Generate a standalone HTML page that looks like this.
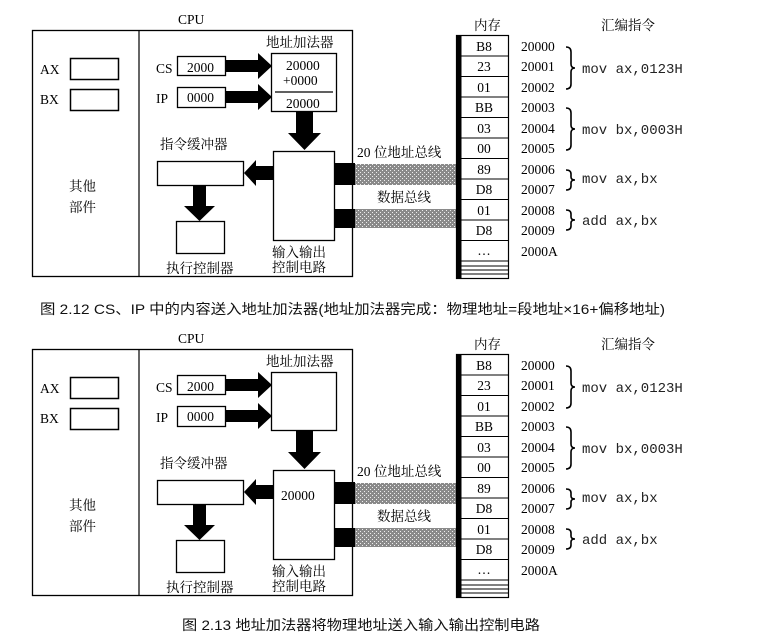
<!DOCTYPE html>
<html><head><meta charset="utf-8"><style>
html,body{margin:0;padding:0;background:#fff;width:761px;height:639px;overflow:hidden}
svg{display:block}
.s{font-family:"Liberation Serif","Noto Serif CJK SC",serif;font-size:13.5px;fill:#000}
.m{font-family:"Liberation Mono",monospace;font-size:14px;fill:#222}
.c{font-family:"Liberation Sans","Noto Sans CJK SC",sans-serif;font-size:14px;fill:#111}
</style></head><body>
<svg width="761" height="639" viewBox="0 0 761 639" xmlns="http://www.w3.org/2000/svg">
<defs>
<pattern id="h" width="4" height="4" patternUnits="userSpaceOnUse">
<rect width="4" height="4" fill="#8a8a8a"/><rect x="0" y="0" width="1" height="1" fill="#eee"/><rect x="2" y="2" width="1" height="1" fill="#eee"/>
</pattern>
<g id="base">
<text class="s" x="178" y="24">CPU</text>
<rect x="32.5" y="30.5" width="320" height="246" fill="none" stroke="#000" stroke-width="1.3"/>
<line x1="139" y1="30" x2="139" y2="277" stroke="#000" stroke-width="1.2"/>
<text class="s" x="40" y="74">AX</text>
<rect x="70.5" y="58.5" width="48" height="21" fill="#fff" stroke="#000" stroke-width="1.5"/>
<text class="s" x="40" y="104">BX</text>
<rect x="70.5" y="89.5" width="48" height="21" fill="#fff" stroke="#000" stroke-width="1.5"/>
<text class="s" x="69" y="191">其他</text>
<text class="s" x="69" y="212">部件</text>
<text class="s" x="156" y="73">CS</text>
<rect x="177.5" y="56.5" width="48" height="19" fill="#fff" stroke="#000" stroke-width="1.3"/>
<text class="s" x="187" y="72">2000</text>
<text class="s" x="156" y="103">IP</text>
<rect x="177.5" y="87.5" width="48" height="20" fill="#fff" stroke="#000" stroke-width="1.3"/>
<text class="s" x="187" y="102">0000</text>
<polygon points="226,60 258,60 258,53 272,66 258,79 258,72 226,72" fill="#000"/>
<polygon points="226,91 258,91 258,84 272,97 258,110 258,103 226,103" fill="#000"/>
<text class="s" x="266" y="47">地址加法器</text>
<rect x="271.5" y="53.5" width="65" height="58" fill="#fff" stroke="#000" stroke-width="1.3"/>
<polygon points="296,111 313,111 313,133 321,133 304.5,150 288,133 296,133" fill="#000"/>
<rect x="273.5" y="151.5" width="61" height="89" fill="#fff" stroke="#000" stroke-width="1.3"/>
<text class="s" x="272" y="257">输入输出</text>
<text class="s" x="272" y="272">控制电路</text>
<text class="s" x="160" y="149">指令缓冲器</text>
<rect x="157.5" y="161.5" width="86" height="24" fill="#fff" stroke="#000" stroke-width="1.3"/>
<polygon points="273,166 256,166 256,160 244,173 256,186 256,180 273,180" fill="#000"/>
<polygon points="193,186 206,186 206,206 215,206 199.5,221 184,206 193,206" fill="#000"/>
<rect x="176.5" y="221.5" width="48" height="32" fill="#fff" stroke="#000" stroke-width="1.3"/>
<text class="s" x="166" y="273">执行控制器</text>
<rect x="334" y="163" width="21" height="22" fill="#000"/>
<rect x="334" y="209" width="21" height="19" fill="#000"/>
<rect x="355" y="164" width="101" height="21" fill="url(#h)"/>
<rect x="355" y="209" width="101" height="19" fill="url(#h)"/>
<text class="s" x="357" y="157">20 位地址总线</text>
<text class="s" x="377" y="202">数据总线</text>
<text class="s" x="474" y="30">内存</text>
<text class="s" x="601" y="30">汇编指令</text>
<rect x="456.5" y="35.5" width="52" height="243" fill="#fff" stroke="#000" stroke-width="1.2"/>
<rect x="457" y="35" width="4.5" height="243" fill="#000"/>
<g stroke="#000" stroke-width="1">
<line x1="461" y1="56" x2="508" y2="56"/><line x1="461" y1="76.5" x2="508" y2="76.5"/><line x1="461" y1="97" x2="508" y2="97"/>
<line x1="461" y1="117.5" x2="508" y2="117.5"/><line x1="461" y1="138" x2="508" y2="138"/><line x1="461" y1="158.5" x2="508" y2="158.5"/>
<line x1="461" y1="179" x2="508" y2="179"/><line x1="461" y1="199.5" x2="508" y2="199.5"/><line x1="461" y1="220" x2="508" y2="220"/>
<line x1="461" y1="240.5" x2="508" y2="240.5"/><line x1="461" y1="261" x2="508" y2="261"/><line x1="461" y1="266" x2="508" y2="266"/>
<line x1="461" y1="270" x2="508" y2="270"/><line x1="461" y1="274" x2="508" y2="274"/>
</g>
<g class="s" text-anchor="middle">
<text x="484" y="51">B8</text><text x="484" y="71">23</text><text x="484" y="92">01</text><text x="484" y="112">BB</text>
<text x="484" y="133">03</text><text x="484" y="153">00</text><text x="484" y="174">89</text><text x="484" y="194">D8</text>
<text x="484" y="215">01</text><text x="484" y="235">D8</text><text x="484" y="255">…</text>
</g>
<g class="s">
<text x="521" y="51">20000</text><text x="521" y="71">20001</text><text x="521" y="92">20002</text><text x="521" y="112">20003</text>
<text x="521" y="133">20004</text><text x="521" y="153">20005</text><text x="521" y="174">20006</text><text x="521" y="194">20007</text>
<text x="521" y="215">20008</text><text x="521" y="235">20009</text><text x="521" y="256">2000A</text>
</g>
<g fill="none" stroke="#000" stroke-width="1.6">
<path d="M566,47 q5,0 5,5 v12 q0,4 4,4 q-4,0 -4,4 v12 q0,5 -5,5"/>
<path d="M566,108 q5,0 5,5 v12 q0,4 4,4 q-4,0 -4,4 v12 q0,5 -5,5"/>
<path d="M566,170 q5,0 5,4 v3 q0,3 4,3 q-4,0 -4,3 v3 q0,4 -5,4"/>
<path d="M566,210 q5,0 5,4 v3 q0,3 4,3 q-4,0 -4,3 v3 q0,4 -5,4"/>
</g>
<g class="m">
<text x="582" y="73">mov ax,0123H</text><text x="582" y="134">mov bx,0003H</text>
<text x="582" y="183">mov ax,bx</text><text x="582" y="225">add ax,bx</text>
</g>
</g>
</defs>
<use href="#base"/>
<text class="s" x="286" y="70">20000</text>
<text class="s" x="283" y="85">+0000</text>
<line x1="275" y1="92" x2="333" y2="92" stroke="#000" stroke-width="1.2"/>
<text class="s" x="286" y="108">20000</text>
<text class="c" x="40" y="314" textLength="625" lengthAdjust="spacingAndGlyphs">图 2.12   CS、IP 中的内容送入地址加法器(地址加法器完成：物理地址=段地址×16+偏移地址)</text>
<use href="#base" y="319"/>
<text class="s" x="281" y="500">20000</text>
<text class="c" x="182" y="630" textLength="358" lengthAdjust="spacingAndGlyphs">图 2.13    地址加法器将物理地址送入输入输出控制电路</text>
</svg>
</body></html>
